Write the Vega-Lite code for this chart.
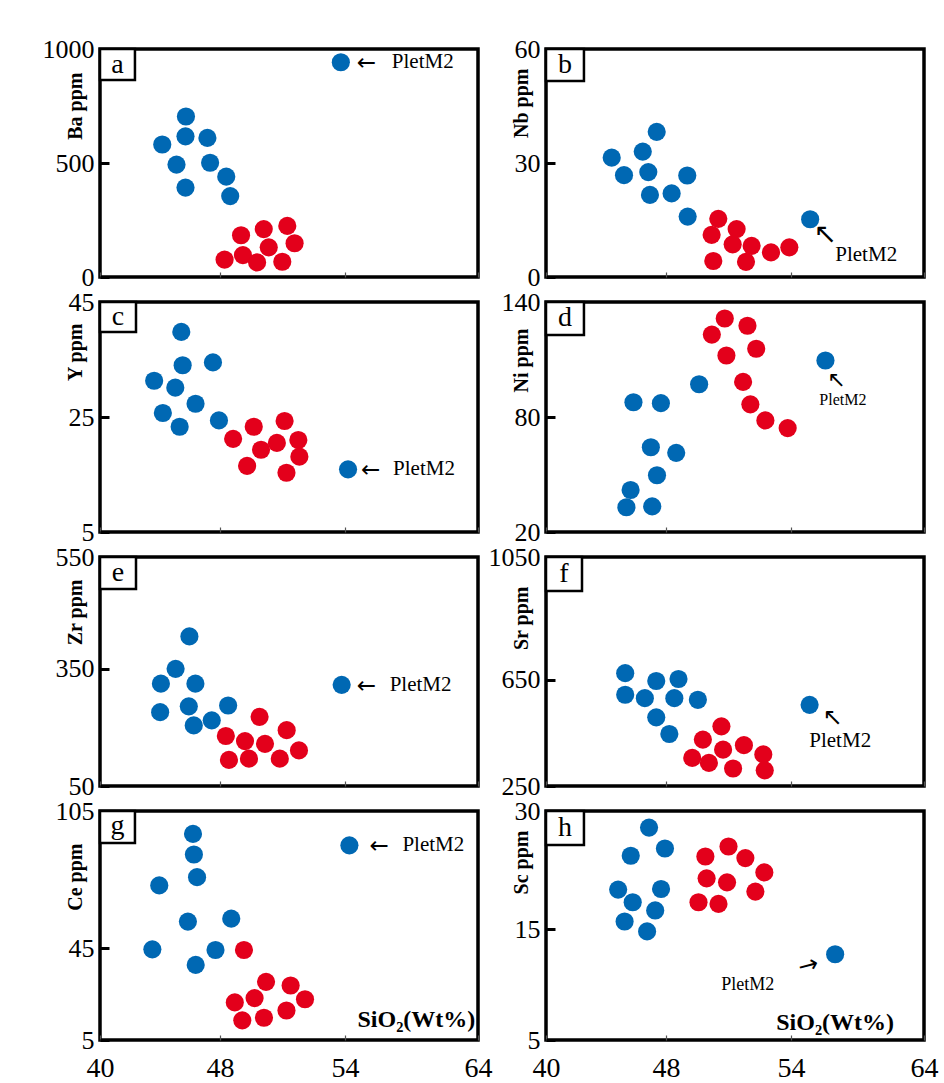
{
  "$schema": "https://vega.github.io/schema/vega-lite/v6.json",
  "background": "white",
  "padding": {"left": 40, "top": 34, "right": 4, "bottom": 4},
  "autosize": {"type": "pad"},
  "bounds": "flush",
  "columns": 2,
  "spacing": {"row": 25, "column": 68},
  "data": {"values": [
    {"panel": "a", "sio2": 44.15, "ppm": 581, "group": "Group 1"},
    {"panel": "a", "sio2": 45.73, "ppm": 704, "group": "Group 1"},
    {"panel": "a", "sio2": 45.70, "ppm": 617, "group": "Group 1"},
    {"panel": "a", "sio2": 47.16, "ppm": 610, "group": "Group 1"},
    {"panel": "a", "sio2": 45.10, "ppm": 493, "group": "Group 1"},
    {"panel": "a", "sio2": 47.34, "ppm": 501, "group": "Group 1"},
    {"panel": "a", "sio2": 45.70, "ppm": 392, "group": "Group 1"},
    {"panel": "a", "sio2": 48.30, "ppm": 440, "group": "Group 1"},
    {"panel": "a", "sio2": 48.49, "ppm": 355, "group": "Group 1"},
    {"panel": "a", "sio2": 53.80, "ppm": 942, "group": "Group 1", "sample": "PletM2"},
    {"panel": "a", "sio2": 49.01, "ppm": 183, "group": "Group 2"},
    {"panel": "a", "sio2": 50.10, "ppm": 210, "group": "Group 2"},
    {"panel": "a", "sio2": 51.23, "ppm": 224, "group": "Group 2"},
    {"panel": "a", "sio2": 50.34, "ppm": 130, "group": "Group 2"},
    {"panel": "a", "sio2": 51.58, "ppm": 148, "group": "Group 2"},
    {"panel": "a", "sio2": 48.22, "ppm": 76, "group": "Group 2"},
    {"panel": "a", "sio2": 49.10, "ppm": 96, "group": "Group 2"},
    {"panel": "a", "sio2": 49.78, "ppm": 64, "group": "Group 2"},
    {"panel": "a", "sio2": 50.99, "ppm": 67, "group": "Group 2"},

    {"panel": "b", "sio2": 44.38, "ppm": 31.4, "group": "Group 1"},
    {"panel": "b", "sio2": 45.20, "ppm": 26.8, "group": "Group 1"},
    {"panel": "b", "sio2": 46.45, "ppm": 33.0, "group": "Group 1"},
    {"panel": "b", "sio2": 47.38, "ppm": 38.2, "group": "Group 1"},
    {"panel": "b", "sio2": 46.82, "ppm": 27.6, "group": "Group 1"},
    {"panel": "b", "sio2": 46.93, "ppm": 21.6, "group": "Group 1"},
    {"panel": "b", "sio2": 48.27, "ppm": 22.0, "group": "Group 1"},
    {"panel": "b", "sio2": 49.02, "ppm": 26.7, "group": "Group 1"},
    {"panel": "b", "sio2": 49.04, "ppm": 15.9, "group": "Group 1"},
    {"panel": "b", "sio2": 55.44, "ppm": 15.2, "group": "Group 1", "sample": "PletM2"},
    {"panel": "b", "sio2": 50.51, "ppm": 15.3, "group": "Group 2"},
    {"panel": "b", "sio2": 50.19, "ppm": 11.1, "group": "Group 2"},
    {"panel": "b", "sio2": 51.39, "ppm": 12.6, "group": "Group 2"},
    {"panel": "b", "sio2": 51.20, "ppm": 8.6, "group": "Group 2"},
    {"panel": "b", "sio2": 52.11, "ppm": 8.2, "group": "Group 2"},
    {"panel": "b", "sio2": 53.04, "ppm": 6.5, "group": "Group 2"},
    {"panel": "b", "sio2": 53.92, "ppm": 7.8, "group": "Group 2"},
    {"panel": "b", "sio2": 50.27, "ppm": 4.2, "group": "Group 2"},
    {"panel": "b", "sio2": 51.84, "ppm": 4.0, "group": "Group 2"},

    {"panel": "c", "sio2": 45.42, "ppm": 39.8, "group": "Group 1"},
    {"panel": "c", "sio2": 45.51, "ppm": 34.0, "group": "Group 1"},
    {"panel": "c", "sio2": 47.53, "ppm": 34.5, "group": "Group 1"},
    {"panel": "c", "sio2": 43.61, "ppm": 31.3, "group": "Group 1"},
    {"panel": "c", "sio2": 45.02, "ppm": 30.1, "group": "Group 1"},
    {"panel": "c", "sio2": 46.37, "ppm": 27.3, "group": "Group 1"},
    {"panel": "c", "sio2": 44.19, "ppm": 25.7, "group": "Group 1"},
    {"panel": "c", "sio2": 45.31, "ppm": 23.3, "group": "Group 1"},
    {"panel": "c", "sio2": 47.93, "ppm": 24.4, "group": "Group 1"},
    {"panel": "c", "sio2": 54.23, "ppm": 15.9, "group": "Group 1", "sample": "PletM2"},
    {"panel": "c", "sio2": 48.63, "ppm": 21.2, "group": "Group 2"},
    {"panel": "c", "sio2": 49.62, "ppm": 23.3, "group": "Group 2"},
    {"panel": "c", "sio2": 51.10, "ppm": 24.3, "group": "Group 2"},
    {"panel": "c", "sio2": 49.97, "ppm": 19.3, "group": "Group 2"},
    {"panel": "c", "sio2": 50.73, "ppm": 20.5, "group": "Group 2"},
    {"panel": "c", "sio2": 51.76, "ppm": 21.0, "group": "Group 2"},
    {"panel": "c", "sio2": 51.81, "ppm": 18.1, "group": "Group 2"},
    {"panel": "c", "sio2": 49.30, "ppm": 16.5, "group": "Group 2"},
    {"panel": "c", "sio2": 51.19, "ppm": 15.3, "group": "Group 2"},

    {"panel": "d", "sio2": 45.83, "ppm": 87.7, "group": "Group 1"},
    {"panel": "d", "sio2": 47.66, "ppm": 87.2, "group": "Group 1"},
    {"panel": "d", "sio2": 49.59, "ppm": 97.1, "group": "Group 1"},
    {"panel": "d", "sio2": 46.99, "ppm": 64.2, "group": "Group 1"},
    {"panel": "d", "sio2": 48.49, "ppm": 61.3, "group": "Group 1"},
    {"panel": "d", "sio2": 47.40, "ppm": 49.6, "group": "Group 1"},
    {"panel": "d", "sio2": 45.64, "ppm": 41.9, "group": "Group 1"},
    {"panel": "d", "sio2": 45.36, "ppm": 32.9, "group": "Group 1"},
    {"panel": "d", "sio2": 47.08, "ppm": 33.4, "group": "Group 1"},
    {"panel": "d", "sio2": 56.59, "ppm": 109.5, "group": "Group 1", "sample": "PletM2"},
    {"panel": "d", "sio2": 50.82, "ppm": 131.4, "group": "Group 2"},
    {"panel": "d", "sio2": 51.91, "ppm": 127.6, "group": "Group 2"},
    {"panel": "d", "sio2": 50.20, "ppm": 123.0, "group": "Group 2"},
    {"panel": "d", "sio2": 52.33, "ppm": 115.6, "group": "Group 2"},
    {"panel": "d", "sio2": 50.90, "ppm": 112.1, "group": "Group 2"},
    {"panel": "d", "sio2": 51.70, "ppm": 98.3, "group": "Group 2"},
    {"panel": "d", "sio2": 52.05, "ppm": 86.6, "group": "Group 2"},
    {"panel": "d", "sio2": 52.77, "ppm": 78.2, "group": "Group 2"},
    {"panel": "d", "sio2": 53.84, "ppm": 74.2, "group": "Group 2"},

    {"panel": "e", "sio2": 45.96, "ppm": 408, "group": "Group 1"},
    {"panel": "e", "sio2": 45.04, "ppm": 350, "group": "Group 1"},
    {"panel": "e", "sio2": 44.06, "ppm": 312, "group": "Group 1"},
    {"panel": "e", "sio2": 46.36, "ppm": 312, "group": "Group 1"},
    {"panel": "e", "sio2": 44.01, "ppm": 239, "group": "Group 1"},
    {"panel": "e", "sio2": 45.92, "ppm": 254, "group": "Group 1"},
    {"panel": "e", "sio2": 46.25, "ppm": 205, "group": "Group 1"},
    {"panel": "e", "sio2": 47.45, "ppm": 218, "group": "Group 1"},
    {"panel": "e", "sio2": 48.39, "ppm": 256, "group": "Group 1"},
    {"panel": "e", "sio2": 53.84, "ppm": 309, "group": "Group 1", "sample": "PletM2"},
    {"panel": "e", "sio2": 49.90, "ppm": 227, "group": "Group 2"},
    {"panel": "e", "sio2": 51.20, "ppm": 193, "group": "Group 2"},
    {"panel": "e", "sio2": 48.28, "ppm": 178, "group": "Group 2"},
    {"panel": "e", "sio2": 49.20, "ppm": 165, "group": "Group 2"},
    {"panel": "e", "sio2": 50.16, "ppm": 158, "group": "Group 2"},
    {"panel": "e", "sio2": 51.79, "ppm": 141, "group": "Group 2"},
    {"panel": "e", "sio2": 48.43, "ppm": 117, "group": "Group 2"},
    {"panel": "e", "sio2": 49.39, "ppm": 120, "group": "Group 2"},
    {"panel": "e", "sio2": 50.87, "ppm": 120, "group": "Group 2"},

    {"panel": "f", "sio2": 45.28, "ppm": 672, "group": "Group 1"},
    {"panel": "f", "sio2": 47.35, "ppm": 646, "group": "Group 1"},
    {"panel": "f", "sio2": 48.60, "ppm": 653, "group": "Group 1"},
    {"panel": "f", "sio2": 45.28, "ppm": 594, "group": "Group 1"},
    {"panel": "f", "sio2": 46.59, "ppm": 581, "group": "Group 1"},
    {"panel": "f", "sio2": 48.40, "ppm": 581, "group": "Group 1"},
    {"panel": "f", "sio2": 49.53, "ppm": 575, "group": "Group 1"},
    {"panel": "f", "sio2": 47.35, "ppm": 509, "group": "Group 1"},
    {"panel": "f", "sio2": 48.16, "ppm": 446, "group": "Group 1"},
    {"panel": "f", "sio2": 55.40, "ppm": 556, "group": "Group 1", "sample": "PletM2"},
    {"panel": "f", "sio2": 50.66, "ppm": 475, "group": "Group 2"},
    {"panel": "f", "sio2": 49.77, "ppm": 425, "group": "Group 2"},
    {"panel": "f", "sio2": 50.74, "ppm": 387, "group": "Group 2"},
    {"panel": "f", "sio2": 51.74, "ppm": 404, "group": "Group 2"},
    {"panel": "f", "sio2": 52.67, "ppm": 369, "group": "Group 2"},
    {"panel": "f", "sio2": 49.26, "ppm": 356, "group": "Group 2"},
    {"panel": "f", "sio2": 50.06, "ppm": 337, "group": "Group 2"},
    {"panel": "f", "sio2": 51.22, "ppm": 316, "group": "Group 2"},
    {"panel": "f", "sio2": 52.74, "ppm": 309, "group": "Group 2"},

    {"panel": "g", "sio2": 46.20, "ppm": 95.0, "group": "Group 1"},
    {"panel": "g", "sio2": 46.26, "ppm": 86.0, "group": "Group 1"},
    {"panel": "g", "sio2": 46.47, "ppm": 76.1, "group": "Group 1"},
    {"panel": "g", "sio2": 43.95, "ppm": 72.5, "group": "Group 1"},
    {"panel": "g", "sio2": 45.86, "ppm": 56.7, "group": "Group 1"},
    {"panel": "g", "sio2": 48.54, "ppm": 58.0, "group": "Group 1"},
    {"panel": "g", "sio2": 43.49, "ppm": 44.6, "group": "Group 1"},
    {"panel": "g", "sio2": 47.70, "ppm": 44.3, "group": "Group 1"},
    {"panel": "g", "sio2": 46.38, "ppm": 37.8, "group": "Group 1"},
    {"panel": "g", "sio2": 54.33, "ppm": 90.0, "group": "Group 1", "sample": "PletM2"},
    {"panel": "g", "sio2": 49.15, "ppm": 44.3, "group": "Group 2"},
    {"panel": "g", "sio2": 50.21, "ppm": 30.4, "group": "Group 2"},
    {"panel": "g", "sio2": 51.39, "ppm": 28.8, "group": "Group 2"},
    {"panel": "g", "sio2": 48.71, "ppm": 21.4, "group": "Group 2"},
    {"panel": "g", "sio2": 49.66, "ppm": 23.3, "group": "Group 2"},
    {"panel": "g", "sio2": 52.08, "ppm": 22.8, "group": "Group 2"},
    {"panel": "g", "sio2": 51.19, "ppm": 17.9, "group": "Group 2"},
    {"panel": "g", "sio2": 49.07, "ppm": 13.6, "group": "Group 2"},
    {"panel": "g", "sio2": 50.11, "ppm": 14.7, "group": "Group 2"},

    {"panel": "h", "sio2": 46.87, "ppm": 27.9, "group": "Group 1"},
    {"panel": "h", "sio2": 47.93, "ppm": 25.25, "group": "Group 1"},
    {"panel": "h", "sio2": 45.65, "ppm": 24.33, "group": "Group 1"},
    {"panel": "h", "sio2": 44.81, "ppm": 20.04, "group": "Group 1"},
    {"panel": "h", "sio2": 47.67, "ppm": 20.12, "group": "Group 1"},
    {"panel": "h", "sio2": 45.78, "ppm": 18.44, "group": "Group 1"},
    {"panel": "h", "sio2": 47.28, "ppm": 17.4, "group": "Group 1"},
    {"panel": "h", "sio2": 45.24, "ppm": 16.0, "group": "Group 1"},
    {"panel": "h", "sio2": 46.74, "ppm": 14.82, "group": "Group 1"},
    {"panel": "h", "sio2": 57.32, "ppm": 12.75, "group": "Group 1", "sample": "PletM2"},
    {"panel": "h", "sio2": 51.00, "ppm": 25.5, "group": "Group 2"},
    {"panel": "h", "sio2": 49.89, "ppm": 24.24, "group": "Group 2"},
    {"panel": "h", "sio2": 51.81, "ppm": 24.03, "group": "Group 2"},
    {"panel": "h", "sio2": 52.72, "ppm": 22.22, "group": "Group 2"},
    {"panel": "h", "sio2": 49.95, "ppm": 21.47, "group": "Group 2"},
    {"panel": "h", "sio2": 50.93, "ppm": 20.96, "group": "Group 2"},
    {"panel": "h", "sio2": 52.29, "ppm": 19.79, "group": "Group 2"},
    {"panel": "h", "sio2": 49.56, "ppm": 18.44, "group": "Group 2"},
    {"panel": "h", "sio2": 50.52, "ppm": 18.23, "group": "Group 2"}
  ]},
  "concat": [
    {
      "width": 378, "height": 228,
      "layer": [
        {"transform": [{"filter": "datum.panel === 'a'"}],
         "mark": {"type": "circle", "size": 330, "opacity": 1},
         "encoding": {
           "x": {"field": "sio2", "type": "quantitative", "scale": {"domain": [40, 48, 54, 64], "range": [0, 120, 245, 378], "nice": false, "zero": false}, "axis": {"values": [40, 48, 54, 64], "labels": false, "title": null}},
           "y": {"field": "ppm", "type": "quantitative", "scale": {"domain": [0, 1000], "nice": false, "zero": false}, "axis": {"values": [0, 500, 1000], "format": "d", "title": "Ba ppm", "titleY": 23}},
           "color": {"field": "group", "type": "nominal", "scale": {"domain": ["Group 1", "Group 2"], "range": ["#0068b3", "#e3001b"]}, "legend": null}
         }},
        {"transform": [{"filter": "datum.panel === 'a' && datum.sample === 'PletM2'"}],
         "mark": {"type": "text", "align": "left", "baseline": "middle", "dx": 16, "dy": 1, "fontSize": 23, "font": "DejaVu Sans", "color": "black"},
         "encoding": {"x": {"field": "sio2", "type": "quantitative"}, "y": {"field": "ppm", "type": "quantitative"}, "text": {"value": "←"}}},
        {"transform": [{"filter": "datum.panel === 'a' && datum.sample === 'PletM2'"}],
         "mark": {"type": "text", "align": "left", "baseline": "middle", "dx": 51, "fontSize": 21, "font": "Liberation Serif", "color": "black"},
         "encoding": {"x": {"field": "sio2", "type": "quantitative"}, "y": {"field": "ppm", "type": "quantitative"}, "text": {"field": "sample"}}},
        {"data": {"values": [{}]}, "mark": {"type": "rect", "fill": "white", "stroke": "black", "strokeWidth": 2.5},
         "encoding": {"x": {"datum": 40}, "x2": {"datum": 42.33}, "y": {"datum": 1000}, "y2": {"datum": 864}}},
        {"data": {"values": [{}]}, "mark": {"type": "text", "fontSize": 28, "font": "Liberation Serif", "align": "center", "baseline": "middle", "color": "black"},
         "encoding": {"x": {"datum": 41.17}, "y": {"datum": 932}, "text": {"value": "a"}}}
      ]
    },
    {
      "width": 378, "height": 228,
      "layer": [
        {"transform": [{"filter": "datum.panel === 'b'"}],
         "mark": {"type": "circle", "size": 330, "opacity": 1},
         "encoding": {
           "x": {"field": "sio2", "type": "quantitative", "scale": {"domain": [40, 48, 54, 64], "range": [0, 120, 245, 378], "nice": false, "zero": false}, "axis": {"values": [40, 48, 54, 64], "labels": false, "title": null}},
           "y": {"field": "ppm", "type": "quantitative", "scale": {"domain": [0, 60], "nice": false, "zero": false}, "axis": {"values": [0, 30, 60], "format": "d", "title": "Nb ppm", "titleY": 19}},
           "color": {"field": "group", "type": "nominal", "scale": {"domain": ["Group 1", "Group 2"], "range": ["#0068b3", "#e3001b"]}, "legend": null}
         }},
        {"data": {"values": [{}]}, "mark": {"type": "text", "align": "center", "baseline": "middle", "fontSize": 28, "font": "DejaVu Sans", "color": "black"},
         "encoding": {"x": {"datum": 56.58}, "y": {"datum": 11.05}, "text": {"value": "↖"}}},
        {"data": {"values": [{}]}, "mark": {"type": "text", "align": "left", "baseline": "middle", "fontSize": 21, "font": "Liberation Serif", "color": "black"},
         "encoding": {"x": {"datum": 57.33}, "y": {"datum": 5.8}, "text": {"value": "PletM2"}}},
        {"data": {"values": [{}]}, "mark": {"type": "rect", "fill": "white", "stroke": "black", "strokeWidth": 2.5},
         "encoding": {"x": {"datum": 40}, "x2": {"datum": 42.53}, "y": {"datum": 60}, "y2": {"datum": 51.6}}},
        {"data": {"values": [{}]}, "mark": {"type": "text", "fontSize": 28, "font": "Liberation Serif", "align": "center", "baseline": "middle", "color": "black"},
         "encoding": {"x": {"datum": 41.27}, "y": {"datum": 55.8}, "text": {"value": "b"}}}
      ]
    },
    {
      "width": 378, "height": 230,
      "layer": [
        {"transform": [{"filter": "datum.panel === 'c'"}],
         "mark": {"type": "circle", "size": 330, "opacity": 1},
         "encoding": {
           "x": {"field": "sio2", "type": "quantitative", "scale": {"domain": [40, 48, 54, 64], "range": [0, 120, 245, 378], "nice": false, "zero": false}, "axis": {"values": [40, 48, 54, 64], "labels": false, "title": null}},
           "y": {"field": "ppm", "type": "quantitative", "scale": {"domain": [5, 45], "nice": false, "zero": false}, "axis": {"values": [5, 25, 45], "format": "d", "title": "Y ppm", "titleY": 21}},
           "color": {"field": "group", "type": "nominal", "scale": {"domain": ["Group 1", "Group 2"], "range": ["#0068b3", "#e3001b"]}, "legend": null}
         }},
        {"transform": [{"filter": "datum.panel === 'c' && datum.sample === 'PletM2'"}],
         "mark": {"type": "text", "align": "left", "baseline": "middle", "dx": 13, "dy": 1, "fontSize": 23, "font": "DejaVu Sans", "color": "black"},
         "encoding": {"x": {"field": "sio2", "type": "quantitative"}, "y": {"field": "ppm", "type": "quantitative"}, "text": {"value": "←"}}},
        {"transform": [{"filter": "datum.panel === 'c' && datum.sample === 'PletM2'"}],
         "mark": {"type": "text", "align": "left", "baseline": "middle", "dx": 45, "fontSize": 21, "font": "Liberation Serif", "color": "black"},
         "encoding": {"x": {"field": "sio2", "type": "quantitative"}, "y": {"field": "ppm", "type": "quantitative"}, "text": {"field": "sample"}}},
        {"data": {"values": [{}]}, "mark": {"type": "rect", "fill": "white", "stroke": "black", "strokeWidth": 2.5},
         "encoding": {"x": {"datum": 40}, "x2": {"datum": 42.4}, "y": {"datum": 45}, "y2": {"datum": 39.8}}},
        {"data": {"values": [{}]}, "mark": {"type": "text", "fontSize": 28, "font": "Liberation Serif", "align": "center", "baseline": "middle", "color": "black"},
         "encoding": {"x": {"datum": 41.2}, "y": {"datum": 42.4}, "text": {"value": "c"}}}
      ]
    },
    {
      "width": 378, "height": 230,
      "layer": [
        {"transform": [{"filter": "datum.panel === 'd'"}],
         "mark": {"type": "circle", "size": 330, "opacity": 1},
         "encoding": {
           "x": {"field": "sio2", "type": "quantitative", "scale": {"domain": [40, 48, 54, 64], "range": [0, 120, 245, 378], "nice": false, "zero": false}, "axis": {"values": [40, 48, 54, 64], "labels": false, "title": null}},
           "y": {"field": "ppm", "type": "quantitative", "scale": {"domain": [20, 140], "nice": false, "zero": false}, "axis": {"values": [20, 80, 140], "format": "d", "title": "Ni ppm", "titleY": 26}},
           "color": {"field": "group", "type": "nominal", "scale": {"domain": ["Group 1", "Group 2"], "range": ["#0068b3", "#e3001b"]}, "legend": null}
         }},
        {"data": {"values": [{}]}, "mark": {"type": "text", "align": "center", "baseline": "middle", "fontSize": 22, "font": "DejaVu Sans", "color": "black"},
         "encoding": {"x": {"datum": 57.41}, "y": {"datum": 99.5}, "text": {"value": "↖"}}},
        {"data": {"values": [{}]}, "mark": {"type": "text", "align": "center", "baseline": "middle", "fontSize": 16, "font": "Liberation Serif", "color": "black"},
         "encoding": {"x": {"datum": 57.9}, "y": {"datum": 88.9}, "text": {"value": "PletM2"}}},
        {"data": {"values": [{}]}, "mark": {"type": "rect", "fill": "white", "stroke": "black", "strokeWidth": 2.5},
         "encoding": {"x": {"datum": 40}, "x2": {"datum": 42.53}, "y": {"datum": 140}, "y2": {"datum": 122.8}}},
        {"data": {"values": [{}]}, "mark": {"type": "text", "fontSize": 28, "font": "Liberation Serif", "align": "center", "baseline": "middle", "color": "black"},
         "encoding": {"x": {"datum": 41.27}, "y": {"datum": 131.4}, "text": {"value": "d"}}}
      ]
    },
    {
      "width": 378, "height": 229,
      "layer": [
        {"transform": [{"filter": "datum.panel === 'e'"}],
         "mark": {"type": "circle", "size": 330, "opacity": 1},
         "encoding": {
           "x": {"field": "sio2", "type": "quantitative", "scale": {"domain": [40, 48, 54, 64], "range": [0, 120, 245, 378], "nice": false, "zero": false}, "axis": {"values": [40, 48, 54, 64], "labels": false, "title": null}},
           "y": {"field": "ppm", "type": "quantitative", "scale": {"domain": [50, 350, 550], "range": [229, 111.8, 0], "nice": false, "zero": false}, "axis": {"values": [50, 350, 550], "format": "d", "title": "Zr ppm", "titleY": 22}},
           "color": {"field": "group", "type": "nominal", "scale": {"domain": ["Group 1", "Group 2"], "range": ["#0068b3", "#e3001b"]}, "legend": null}
         }},
        {"transform": [{"filter": "datum.panel === 'e' && datum.sample === 'PletM2'"}],
         "mark": {"type": "text", "align": "left", "baseline": "middle", "dx": 15, "dy": 1, "fontSize": 23, "font": "DejaVu Sans", "color": "black"},
         "encoding": {"x": {"field": "sio2", "type": "quantitative"}, "y": {"field": "ppm", "type": "quantitative"}, "text": {"value": "←"}}},
        {"transform": [{"filter": "datum.panel === 'e' && datum.sample === 'PletM2'"}],
         "mark": {"type": "text", "align": "left", "baseline": "middle", "dx": 48, "fontSize": 21, "font": "Liberation Serif", "color": "black"},
         "encoding": {"x": {"field": "sio2", "type": "quantitative"}, "y": {"field": "ppm", "type": "quantitative"}, "text": {"field": "sample"}}},
        {"data": {"values": [{}]}, "mark": {"type": "rect", "fill": "white", "stroke": "black", "strokeWidth": 2.5},
         "encoding": {"x": {"datum": 40}, "x2": {"datum": 42.4}, "y": {"datum": 550}, "y2": {"datum": 492.8}}},
        {"data": {"values": [{}]}, "mark": {"type": "text", "fontSize": 28, "font": "Liberation Serif", "align": "center", "baseline": "middle", "color": "black"},
         "encoding": {"x": {"datum": 41.2}, "y": {"datum": 521.4}, "text": {"value": "e"}}}
      ]
    },
    {
      "width": 378, "height": 229,
      "layer": [
        {"transform": [{"filter": "datum.panel === 'f'"}],
         "mark": {"type": "circle", "size": 330, "opacity": 1},
         "encoding": {
           "x": {"field": "sio2", "type": "quantitative", "scale": {"domain": [40, 48, 54, 64], "range": [0, 120, 245, 378], "nice": false, "zero": false}, "axis": {"values": [40, 48, 54, 64], "labels": false, "title": null}},
           "y": {"field": "ppm", "type": "quantitative", "scale": {"domain": [250, 650, 1050], "range": [229, 122.9, 0], "nice": false, "zero": false}, "axis": {"values": [250, 650, 1050], "format": "d", "title": "Sr ppm", "titleY": 29}},
           "color": {"field": "group", "type": "nominal", "scale": {"domain": ["Group 1", "Group 2"], "range": ["#0068b3", "#e3001b"]}, "legend": null}
         }},
        {"data": {"values": [{}]}, "mark": {"type": "text", "align": "center", "baseline": "middle", "fontSize": 24, "font": "DejaVu Sans", "color": "black"},
         "encoding": {"x": {"datum": 57.15}, "y": {"datum": 508}, "text": {"value": "↖"}}},
        {"data": {"values": [{}]}, "mark": {"type": "text", "align": "center", "baseline": "middle", "fontSize": 21, "font": "Liberation Serif", "color": "black"},
         "encoding": {"x": {"datum": 57.7}, "y": {"datum": 418}, "text": {"value": "PletM2"}}},
        {"data": {"values": [{}]}, "mark": {"type": "rect", "fill": "white", "stroke": "black", "strokeWidth": 2.5},
         "encoding": {"x": {"datum": 40}, "x2": {"datum": 42.4}, "y": {"datum": 1050}, "y2": {"datum": 939.3}}},
        {"data": {"values": [{}]}, "mark": {"type": "text", "fontSize": 28, "font": "Liberation Serif", "align": "center", "baseline": "middle", "color": "black"},
         "encoding": {"x": {"datum": 41.2}, "y": {"datum": 994.7}, "text": {"value": "f"}}}
      ]
    },
    {
      "width": 378, "height": 229,
      "layer": [
        {"transform": [{"filter": "datum.panel === 'g'"}],
         "mark": {"type": "circle", "size": 330, "opacity": 1},
         "encoding": {
           "x": {"field": "sio2", "type": "quantitative", "scale": {"domain": [40, 48, 54, 64], "range": [0, 120, 245, 378], "nice": false, "zero": false}, "axis": {"values": [40, 48, 54, 64], "title": null}},
           "y": {"field": "ppm", "type": "quantitative", "scale": {"domain": [5, 105], "nice": false, "zero": false}, "axis": {"values": [5, 45, 105], "format": "d", "title": "Ce ppm", "titleY": 32}},
           "color": {"field": "group", "type": "nominal", "scale": {"domain": ["Group 1", "Group 2"], "range": ["#0068b3", "#e3001b"]}, "legend": null}
         }},
        {"transform": [{"filter": "datum.panel === 'g' && datum.sample === 'PletM2'"}],
         "mark": {"type": "text", "align": "left", "baseline": "middle", "dx": 20, "dy": 1, "fontSize": 23, "font": "DejaVu Sans", "color": "black"},
         "encoding": {"x": {"field": "sio2", "type": "quantitative"}, "y": {"field": "ppm", "type": "quantitative"}, "text": {"value": "←"}}},
        {"transform": [{"filter": "datum.panel === 'g' && datum.sample === 'PletM2'"}],
         "mark": {"type": "text", "align": "left", "baseline": "middle", "dx": 53, "fontSize": 21, "font": "Liberation Serif", "color": "black"},
         "encoding": {"x": {"field": "sio2", "type": "quantitative"}, "y": {"field": "ppm", "type": "quantitative"}, "text": {"field": "sample"}}},
        {"data": {"values": [{}]}, "mark": {"type": "text", "align": "right", "baseline": "alphabetic", "fontSize": 24, "fontWeight": "bold", "font": "Liberation Serif", "color": "black"},
         "encoding": {"x": {"datum": 63.8}, "y": {"datum": 10.7}, "text": {"value": "SiO₂(Wt%)"}}},
        {"data": {"values": [{}]}, "mark": {"type": "rect", "fill": "white", "stroke": "black", "strokeWidth": 2.5},
         "encoding": {"x": {"datum": 40}, "x2": {"datum": 42.33}, "y": {"datum": 105}, "y2": {"datum": 91}}},
        {"data": {"values": [{}]}, "mark": {"type": "text", "fontSize": 28, "font": "Liberation Serif", "align": "center", "baseline": "middle", "color": "black"},
         "encoding": {"x": {"datum": 41.17}, "y": {"datum": 98.5}, "text": {"value": "g"}}}
      ]
    },
    {
      "width": 378, "height": 229,
      "layer": [
        {"transform": [{"filter": "datum.panel === 'h'"}],
         "mark": {"type": "circle", "size": 330, "opacity": 1},
         "encoding": {
           "x": {"field": "sio2", "type": "quantitative", "scale": {"domain": [40, 48, 54, 64], "range": [0, 120, 245, 378], "nice": false, "zero": false}, "axis": {"values": [40, 48, 54, 64], "title": null}},
           "y": {"field": "ppm", "type": "quantitative", "scale": {"domain": [5, 15, 30], "range": [229, 118.4, 0], "nice": false, "zero": false}, "axis": {"values": [5, 15, 30], "format": "d", "title": "Sc ppm", "titleY": 19}},
           "color": {"field": "group", "type": "nominal", "scale": {"domain": ["Group 1", "Group 2"], "range": ["#0068b3", "#e3001b"]}, "legend": null}
         }},
        {"data": {"values": [{}]}, "mark": {"type": "text", "align": "center", "baseline": "middle", "fontSize": 24, "angle": 345, "font": "DejaVu Sans", "color": "black"},
         "encoding": {"x": {"datum": 55.3}, "y": {"datum": 11.7}, "text": {"value": "→"}}},
        {"data": {"values": [{}]}, "mark": {"type": "text", "align": "center", "baseline": "middle", "fontSize": 18, "font": "Liberation Serif", "color": "black"},
         "encoding": {"x": {"datum": 51.92}, "y": {"datum": 9.95}, "text": {"value": "PletM2"}}},
        {"data": {"values": [{}]}, "mark": {"type": "text", "align": "right", "baseline": "alphabetic", "fontSize": 24, "fontWeight": "bold", "font": "Liberation Serif", "color": "black"},
         "encoding": {"x": {"datum": 61.75}, "y": {"datum": 5.9}, "text": {"value": "SiO₂(Wt%)"}}},
        {"data": {"values": [{}]}, "mark": {"type": "rect", "fill": "white", "stroke": "black", "strokeWidth": 2.5},
         "encoding": {"x": {"datum": 40}, "x2": {"datum": 42.53}, "y": {"datum": 30}, "y2": {"datum": 25.7}}},
        {"data": {"values": [{}]}, "mark": {"type": "text", "fontSize": 28, "font": "Liberation Serif", "align": "center", "baseline": "middle", "color": "black"},
         "encoding": {"x": {"datum": 41.27}, "y": {"datum": 27.85}, "text": {"value": "h"}}}
      ]
    }
  ],
  "config": {
    "font": "Liberation Serif",
    "view": {"stroke": "black", "strokeWidth": 3.5},
    "axis": {"domain": false, "grid": false, "zindex": 1, "labelFont": "Liberation Serif", "labelColor": "black", "labelOverlap": false, "labelFlush": false, "labelBound": false, "titleFont": "Liberation Serif", "titleColor": "black", "titleFontWeight": "bold", "titleFontSize": 20, "tickColor": "black"},
    "axisY": {"labelFontSize": 26, "offset": -9, "tickSize": 9, "tickWidth": 3, "labelPadding": 6, "titleAngle": 270, "titleAlign": "right", "titleBaseline": "bottom", "titleX": -24},
    "axisX": {"labelFontSize": 28, "offset": -5, "tickSize": 5, "tickWidth": 1.2, "tickColor": "#555555", "labelPadding": 14}
  }
}
